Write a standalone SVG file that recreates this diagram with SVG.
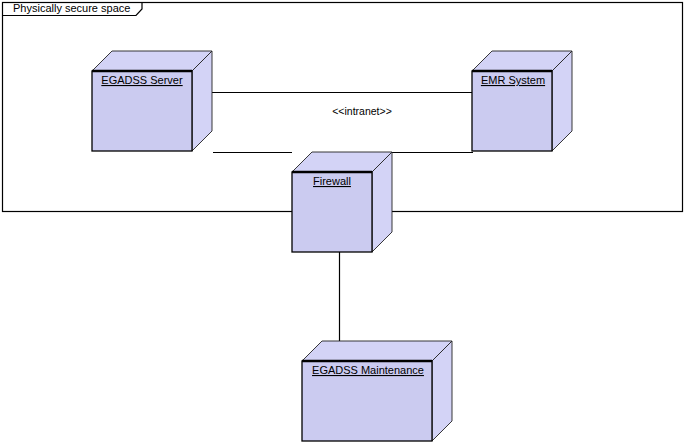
<svg xmlns="http://www.w3.org/2000/svg" width="686" height="446" viewBox="0 0 686 446">
  <style>
    .front { fill: #CBCBF0; stroke: #000; stroke-width: 1.3; }
    .topline { stroke: #000; stroke-width: 2.6; }
    .face { fill: #D3D3F6; stroke: #222; stroke-width: 0.9; stroke-linejoin: miter; }
    .conn { stroke: #000; stroke-width: 1.2; fill: none; }
    .frame { fill: #fff; stroke: #000; stroke-width: 1.2; }
    .label { font-family: "Liberation Sans", Arial, sans-serif; font-size: 11px; fill: #000; }
    .name { text-decoration: underline; text-anchor: middle; }
  </style>

  <g id="frame">
    <rect class="frame" x="2.5" y="2.5" width="680" height="209"/>
    <path class="conn" d="M2.5,15.5 H136 L142,9 V2.5"/>
    <text class="label" x="13" y="12">Physically secure space</text>
  </g>

  <g id="connectors">
    <line class="conn" x1="212" y1="92.5" x2="472" y2="92.5"/>
    <line class="conn" x1="213" y1="152.5" x2="292" y2="152.5"/>
    <line class="conn" x1="392" y1="152.5" x2="473" y2="152.5"/>
    <line class="conn" x1="339.5" y1="252" x2="339.5" y2="342"/>
    <text class="label" x="362" y="115" text-anchor="middle" style="font-size:10.5px">&lt;&lt;intranet&gt;&gt;</text>
  </g>

  <g id="egadss-server">
    <polygon class="face" points="92,71 112,51 212,51 192,71"/>
    <polygon class="face" points="192,71 212,51 212,131 192,151"/>
    <rect class="front" x="92" y="71" width="100" height="80"/>
    <line class="topline" x1="92" y1="71" x2="192" y2="71"/>
    <text class="label name" x="142" y="84">EGADSS Server</text>
  </g>

  <g id="emr-system">
    <polygon class="face" points="472,71 492,51 572,51 552,71"/>
    <polygon class="face" points="552,71 572,51 572,131 552,151"/>
    <rect class="front" x="472" y="71" width="80" height="80"/>
    <line class="topline" x1="472" y1="71" x2="552" y2="71"/>
    <text class="label name" x="513" y="84">EMR System</text>
  </g>

  <g id="firewall">
    <polygon class="face" points="292,172 312,152 392,152 372,172"/>
    <polygon class="face" points="372,172 392,152 392,232 372,252"/>
    <rect class="front" x="292" y="172" width="80" height="80"/>
    <line class="topline" x1="292" y1="172" x2="372" y2="172"/>
    <text class="label name" x="332" y="185">Firewall</text>
  </g>

  <g id="egadss-maintenance">
    <polygon class="face" points="302,361 322,341 452,341 432,361"/>
    <polygon class="face" points="432,361 452,341 452,421 432,441"/>
    <rect class="front" x="302" y="361" width="130" height="80"/>
    <line class="topline" x1="302" y1="361" x2="432" y2="361"/>
    <text class="label name" x="368" y="374">EGADSS Maintenance</text>
  </g>
</svg>
